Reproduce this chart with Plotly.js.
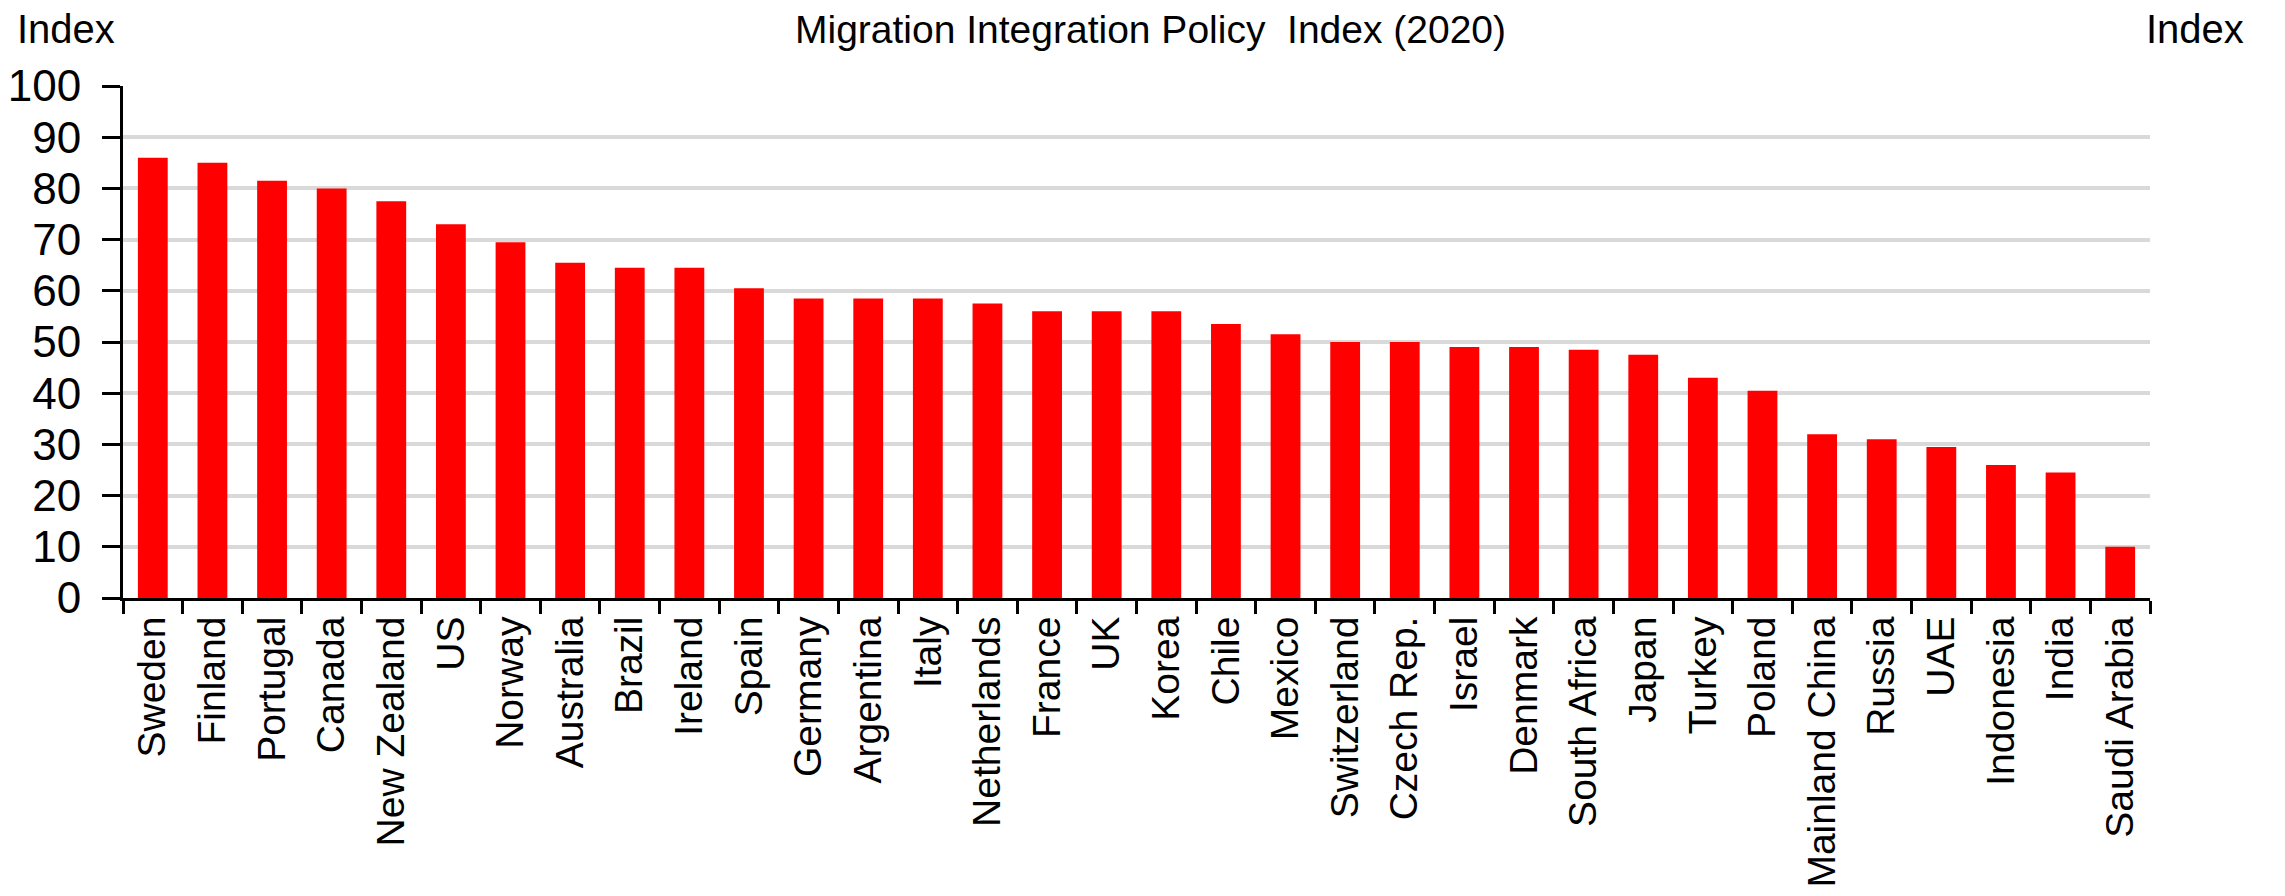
<!DOCTYPE html>
<html>
<head>
<meta charset="utf-8">
<script src="https://cdn.plot.ly/plotly-3.0.1.min.js"></script>
<style>html,body{margin:0;padding:0;background:#fff;}#chart{width:2285px;height:896px;}</style>
</head>
<body>
<div id="chart"></div>
<script>
const countries = ["Sweden","Finland","Portugal","Canada","New Zealand","US","Norway","Australia","Brazil","Ireland","Spain","Germany","Argentina","Italy","Netherlands","France","UK","Korea","Chile","Mexico","Switzerland","Czech Rep.","Israel","Denmark","South Africa","Japan","Turkey","Poland","Mainland China","Russia","UAE","Indonesia","India","Saudi Arabia"];
const mipex = [86,85,81.5,80,77.5,73,69.5,65.5,64.5,64.5,60.5,58.5,58.5,58.5,57.5,56,56,56,53.5,51.5,50,50,49,49,48.5,47.5,43,40.5,32,31,29.5,26,24.5,10];
const yTicks = [0,10,20,30,40,50,60,70,80,90,100];
const chartTitle = "Migration Integration Policy  Index (2020)";
const axisLabel = "Index";

const FONT = "'Liberation Sans Narrow','Arial Narrow','Liberation Sans',Arial,sans-serif";

const data = [{
  type: "bar",
  x: countries,
  y: mipex,
  marker: {color: "#ff0000"},
  hoverinfo: "x+y"
}];

const layout = {
  width: 2285, height: 896,
  margin: {l: 123, r: 135, t: 86, b: 298},
  paper_bgcolor: "#fff", plot_bgcolor: "#fff",
  showlegend: false,
  bargap: 0.5,
  font: {family: FONT, size: 40, color: "#000"},
  xaxis: {
    type: "category",
    tickangle: -90,
    tickson: "boundaries",
    ticks: "outside", ticklen: 13, tickwidth: 3, tickcolor: "#000",
    showline: true, linewidth: 3, linecolor: "#000",
    showgrid: false, zeroline: false,
    tickfont: {family: FONT, size: 39, color: "#000"},
    automargin: false
  },
  yaxis: {
    range: [0, 100], tickvals: yTicks, ticktext: yTicks.map(String),
    ticks: "outside", ticklen: 18, tickwidth: 3, tickcolor: "#000",
    showline: true, linewidth: 3, linecolor: "#000",
    showgrid: true, gridcolor: "#d9d9d9", gridwidth: 4,
    zeroline: false,
    ticklabelstandoff: 12,
    tickfont: {family: FONT, size: 44, color: "#000"},
    automargin: false
  },
  yaxis2: {
    overlaying: "y", side: "right",
    range: [0, 100], tickvals: yTicks, ticktext: yTicks.map(String),
    ticks: "outside", ticklen: 13, tickwidth: 3, tickcolor: "#000",
    showline: true, linewidth: 3, linecolor: "#000",
    showgrid: false, zeroline: false,
    ticklabelstandoff: 12,
    tickfont: {family: FONT, size: 44, color: "#000"},
    automargin: false
  },
  annotations: [
    {text: chartTitle, xref: "paper", yref: "paper", x: 0.5, y: 1, xanchor: "center", yanchor: "bottom", xshift: 14, yshift: 33, showarrow: false, font: {family: FONT, size: 39, color: "#000"}},
    {text: axisLabel, xref: "paper", yref: "paper", x: 0, y: 1, xanchor: "left", yanchor: "bottom", xshift: -108, yshift: 33, showarrow: false, font: {family: FONT, size: 40, color: "#000"}},
    {text: axisLabel, xref: "paper", yref: "paper", x: 1, y: 1, xanchor: "left", yanchor: "bottom", xshift: -6, yshift: 33, showarrow: false, font: {family: FONT, size: 40, color: "#000"}}
  ]
};

Plotly.newPlot("chart", data, layout, {displayModeBar: false, staticPlot: true});
</script>
</body>
</html>
